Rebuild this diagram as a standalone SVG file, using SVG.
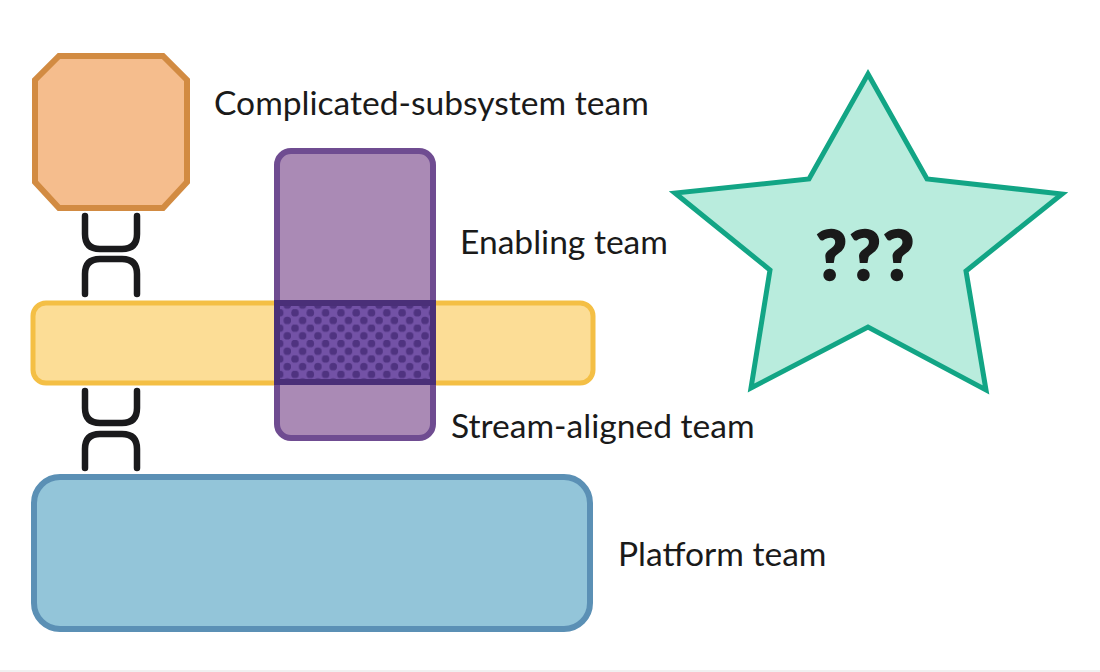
<svg xmlns="http://www.w3.org/2000/svg" width="1100" height="672" viewBox="0 0 1100 672">
<style>
.l{font-family:Lato,"Open Sans",sans-serif;font-size:33.6px;fill:#1a1a1a}
.c{fill:none;stroke:#1a1a1c;stroke-width:6.5;stroke-linecap:round}
</style>
<defs>
<pattern id="dots" width="15.3" height="15.4" patternUnits="userSpaceOnUse" x="275.7" y="293.8">
<rect width="15.3" height="15.4" fill="#7352a6"/>
<circle cx="4" cy="3.5" r="3.8" fill="#4f3380"/>
<circle cx="11.65" cy="11.2" r="3.8" fill="#4f3380"/>
</pattern>
</defs>
<rect width="1100" height="672" fill="#fff"/>
<rect y="670" width="1100" height="2" fill="#f0f0f0"/>
<g id="connectors">
<path class="c" d="M85 216V234Q85 249 100 249H122Q137 249 137 234V216"/>
<path class="c" d="M85 294V274Q85 259 100 259H122Q137 259 137 274V294"/>
<path class="c" d="M85 391V408Q85 423 100 423H122Q137 423 137 408V391"/>
<path class="c" d="M85 468V449Q85 434 100 434H122Q137 434 137 449V468"/>
</g>
<g id="complicated-subsystem">
<polygon points="59,56 163,56 187,80 187,182 163,208 59,208 35,182 35,80" fill="#f5bd8d" stroke="#d28b42" stroke-width="6"/>
<text class="l" x="214" y="115">Complicated-subsystem team</text>
</g>
<g id="stream-aligned">
<rect x="33" y="303" width="560" height="80" rx="13" fill="#fcdd96" stroke="#f4bf45" stroke-width="5"/>
<text class="l" x="451" y="438">Stream-aligned team</text>
</g>
<g id="enabling">
<rect x="277" y="151" width="156" height="287" rx="14" fill="#aa8ab5" stroke="#6f4c91" stroke-width="6"/>
<text class="l" x="460" y="254">Enabling team</text>
</g>
<g id="overlap">
<rect x="277" y="303" width="156" height="79" fill="url(#dots)" stroke="#4a2f78" stroke-width="6"/>
</g>
<g id="platform">
<rect x="34" y="477" width="556" height="152" rx="26" fill="#93c5d9" stroke="#5b90b5" stroke-width="6"/>
<text class="l" x="618" y="566">Platform team</text>
</g>
<g id="unknown">
<polygon points="868,74 927,179 1062,194 966,271 986,390 868,327 751,388 770,270 675,193 809,179" fill="#b9ecdd" stroke="#12a585" stroke-width="5"/>
<text x="866" y="280" text-anchor="middle" font-family="Lato,'Open Sans',sans-serif" font-weight="900" font-size="68" letter-spacing="2" stroke="#1a1a1a" stroke-width="1.5" fill="#1a1a1a">???</text>
</g>
</svg>
